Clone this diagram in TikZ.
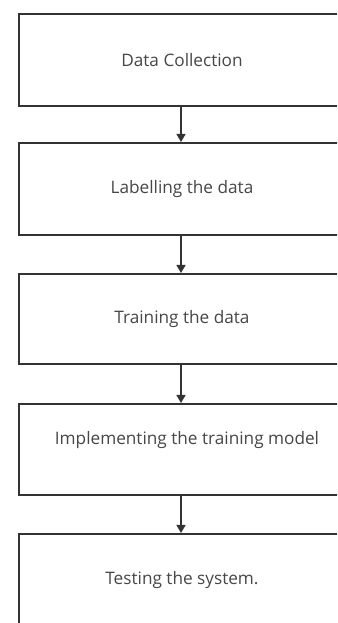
\documentclass[tikz,border=0pt]{standalone}
\usepackage{fontspec}
\setmainfont{Open Sans}
\usetikzlibrary{arrows.meta}
\definecolor{linec}{HTML}{333333}
\definecolor{textc}{HTML}{474747}
\begin{document}
\begin{tikzpicture}[x=1pt,y=1pt,
  stepbox/.style={draw=linec,line width=1.8pt,minimum width=340pt,anchor=north west,inner sep=0pt},
  steptext/.style={font=\fontsize{17.2}{20}\selectfont,text=textc},
  flow/.style={draw=linec,line width=1.3pt,-{Triangle[width=9pt,length=8pt]}}]
\useasboundingbox (0,0) rectangle (337,623);
\clip (0,0) rectangle (337,623);
\fill[white] (0,0) rectangle (337,623);
\node[stepbox,minimum height=92pt] (a) at (18,610) {};
\node[stepbox,minimum height=92pt] (b) at (18,481) {};
\node[stepbox,minimum height=90pt] (c) at (18,350) {};
\node[stepbox,minimum height=91pt] (d) at (18,220) {};
\node[stepbox,minimum height=110pt] (e) at (18,90) {};
\node[steptext] (ta) at (182,563) {Data Collection};
\node[steptext] (tb) at (182,434) {Labelling the data};
\node[steptext] (tc) at (182,304) {Training the data};
\node[steptext] (td) at (187,183) {Implementing the training model};
\node[steptext] (te) at (182,43) {Testing the system.};
\coordinate (a1) at (181,518);
\coordinate (b0) at (181,481);
\coordinate (b1) at (181,389);
\coordinate (c0) at (181,350);
\coordinate (c1) at (181,260);
\coordinate (d0) at (181,220);
\coordinate (d1) at (181,129);
\coordinate (e0) at (181,90);
\draw[flow] (a1) -- (b0);
\draw[flow] (b1) -- (c0);
\draw[flow] (c1) -- (d0);
\draw[flow] (d1) -- (e0);
\end{tikzpicture}
\end{document}
